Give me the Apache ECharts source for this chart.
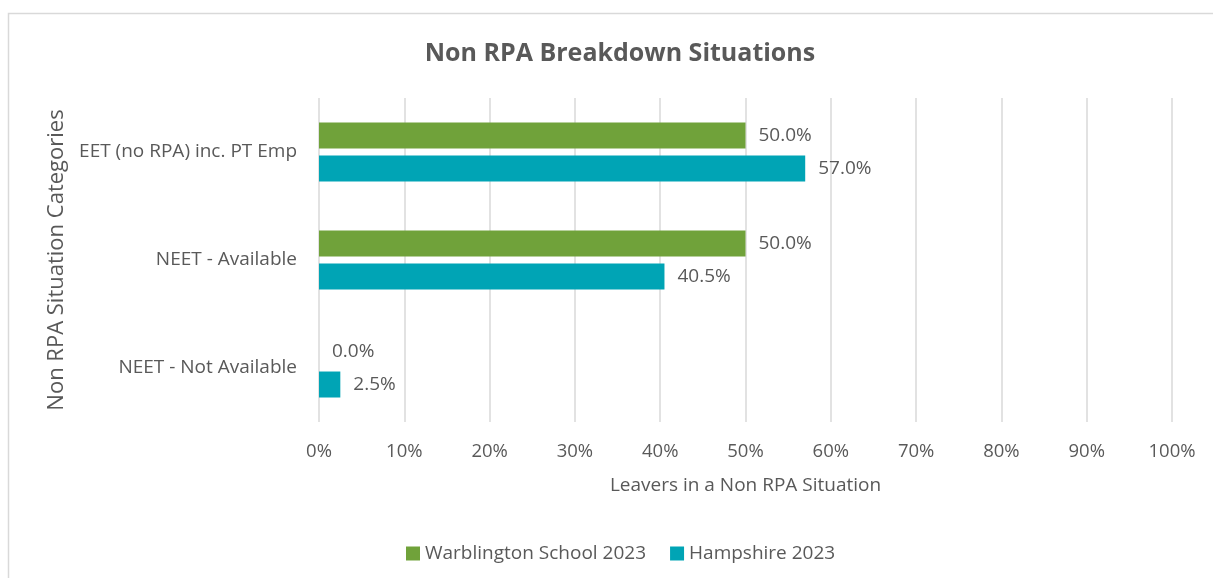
<!DOCTYPE html>
<html>
<head>
<meta charset="utf-8">
<title>Non RPA Breakdown Situations</title>
<script src="https://cdn.jsdelivr.net/npm/echarts@6/dist/echarts.min.js"></script>
<style>
	html, body { margin: 0; padding: 0; background: #fff; }
	#chart { width: 1213px; height: 578px; }
</style>
</head>
<body>
<div id="chart"></div>
<script>
	// data
	var categories = ['EET (no RPA) inc. PT Emp', 'NEET - Available', 'NEET - Not Available'];
	var warblington = [50.0, 50.0, 0.0];
	var hampshire = [57.0, 40.5, 2.5];
	var seriesNames = ['Warblington School 2023', 'Hampshire 2023'];
	var xTicks = [0, 10, 20, 30, 40, 50, 60, 70, 80, 90, 100];

	var fontFamily = '"Open Sans", "Noto Sans", sans-serif';
	var textColor = '#595959';

	var chart = echarts.init(document.getElementById('chart'));

	// value label on bar end
	var barLabel = {
		show: true,
		position: 'right',
		distance: 13,
		color: textColor,
		fontFamily: fontFamily,
		fontSize: 19,
		formatter: function(p) {
			return p.value.toFixed(1) + '%';
		}
	};

	var option = {
		animation: false,
		backgroundColor: '#fff',
		textStyle: { fontFamily: fontFamily },
		// outer frame
		graphic: [{
			type: 'rect',
			shape: { x: 8.5, y: 13.5, width: 1400, height: 800 },
			style: { fill: 'none', stroke: '#d9d9d9', lineWidth: 1.5 },
			silent: true
		}],
		title: {
			text: 'Non RPA Breakdown Situations',
			left: 615,
			textAlign: 'center',
			top: 36,
			textStyle: {
				color: textColor,
				fontSize: 25,
				fontWeight: 'bold',
				fontFamily: fontFamily
			}
		},
		legend: {
			data: seriesNames,
			left: 401,
			top: 539,
			icon: 'rect',
			itemWidth: 14,
			itemHeight: 14,
			itemGap: 24,
			textStyle: { color: textColor, fontSize: 19, fontFamily: fontFamily }
		},
		grid: {
			left: 319,
			right: 41,
			top: 98,
			bottom: 156,
			containLabel: false
		},
		xAxis: {
			type: 'value',
			min: xTicks[0],
			max: xTicks[xTicks.length - 1],
			interval: 10,
			name: 'Leavers in a Non RPA Situation',
			nameLocation: 'middle',
			nameGap: 54,
			nameTextStyle: { color: textColor, fontSize: 19, fontFamily: fontFamily },
			axisLine: { show: false },
			axisTick: { show: false },
			axisLabel: {
				color: textColor,
				fontSize: 18.5,
				margin: 20,
				fontFamily: fontFamily,
				formatter: '{value}%'
			},
			splitLine: { show: true, lineStyle: { color: '#d9d9d9', width: 1.5 } }
		},
		yAxis: {
			type: 'category',
			data: categories,
			inverse: true,
			name: 'Non RPA Situation Categories',
			nameLocation: 'middle',
			nameGap: 248,
			nameRotate: 90,
			nameTextStyle: { color: textColor, fontSize: 22, fontFamily: fontFamily },
			axisLine: { show: false },
			axisTick: { show: false },
			axisLabel: { color: textColor, fontSize: 19, margin: 22, fontFamily: fontFamily },
			splitLine: { show: false }
		},
		series: [{
			name: seriesNames[0],
			type: 'bar',
			data: warblington,
			barWidth: 26,
			barGap: '27%',
			itemStyle: { color: '#70A23A' },
			label: barLabel
		}, {
			name: seriesNames[1],
			type: 'bar',
			data: hampshire,
			barWidth: 26,
			barGap: '27%',
			itemStyle: { color: '#00A4B5' },
			label: barLabel
		}]
	};

	chart.setOption(option);

	window.onresize = function() {
		setTimeout(function() {
			chart.resize();
		}, 200);
	}
</script>
</body>
</html>
